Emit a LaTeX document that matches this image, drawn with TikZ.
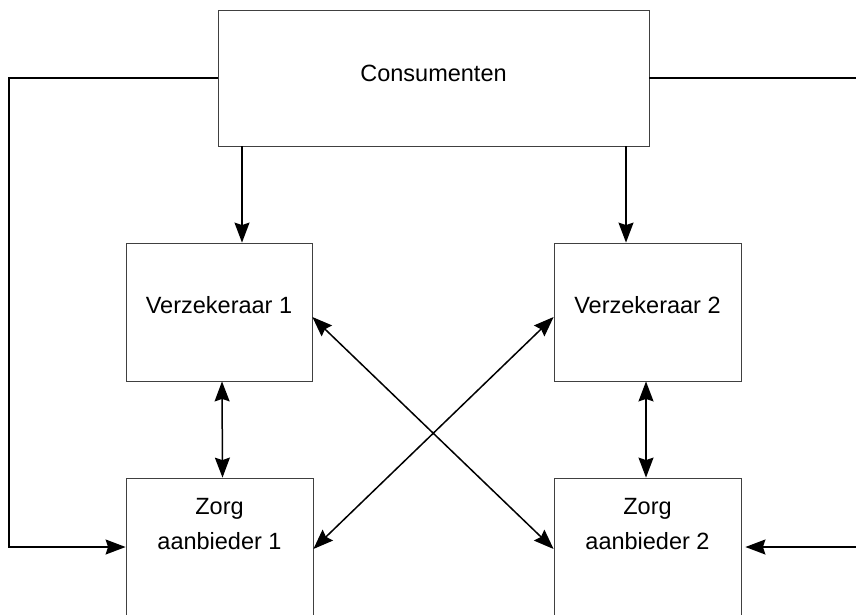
\documentclass[tikz,border=0pt]{standalone}
\usepackage{fontspec}
\setmainfont{Liberation Sans}
\usetikzlibrary{arrows.meta}

\begin{document}
\begin{tikzpicture}[x=1pt, y=-1pt,
  blok/.style={draw=black!75, line width=0.8pt, inner sep=0pt, align=center,
    font=\fontsize{23.5}{35}\selectfont},
  pijl/.style={-{Stealth[length=20pt, width=15pt, inset=2.5pt]}, line width=1.5pt},
  dubbel/.style={{Stealth[length=20pt, width=15pt, inset=2.5pt]}-{Stealth[length=20pt, width=15pt, inset=2.5pt]}, line width=1.5pt}]
\useasboundingbox (0,0) rectangle (856,614);
% Zorgstelsel
\node[blok, minimum width=431pt, minimum height=136pt, text depth=10pt] (cons) at (433.5,78) {Consumenten};
\node[blok, minimum width=186pt, minimum height=138pt, text depth=15pt] (v1) at (219,312) {Verzekeraar 1};
\node[blok, minimum width=187pt, minimum height=138pt, text depth=15pt] (v2) at (647.5,312) {Verzekeraar 2};
\node[blok, minimum width=187pt, minimum height=138pt, text depth=46pt] (z1) at (219.5,547) {Zorg\\aanbieder 1};
\node[blok, minimum width=187pt, minimum height=138pt, text depth=46pt] (z2) at (647.5,547) {Zorg\\aanbieder 2};
\coordinate (links) at (9,78);
\coordinate (rechtsboven) at (856,78);
\coordinate (rechtsonder) at (856,547);
\draw[pijl] ([xshift=23pt]v1.north |- cons.south) -- ([xshift=23pt]v1.north);
\draw[pijl] ([xshift=-21.5pt]v2.north |- cons.south) -- ([xshift=-21.5pt]v2.north);
\draw[dubbel] ([xshift=3pt]v1.south) -- ([xshift=3pt]z1.north);
\draw[dubbel] ([xshift=-1.5pt]v2.south) -- ([xshift=-1.5pt]z2.north);
\draw[dubbel] ([yshift=-5pt]v1.east) -- ([yshift=-2pt]z2.west);
\draw[dubbel] ([yshift=-5pt]v2.west) -- ([yshift=-2pt]z1.east);
\draw[pijl] (cons.west) -- (links) -- (links |- z1.west) -- (z1.west);
\draw[line width=1.5pt] (cons.east) -- (rechtsboven);
\draw[pijl, shorten >=4pt] (rechtsonder) -- (z2.east);
\end{tikzpicture}
\end{document}
